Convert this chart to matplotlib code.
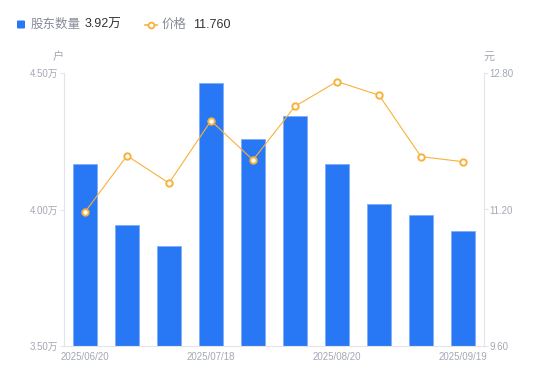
import matplotlib
matplotlib.use("Agg")
import matplotlib.pyplot as plt
import numpy as np

plt.rcParams['font.family'] = ['Liberation Sans', 'Noto Sans CJK SC', 'DejaVu Sans']

dates = ["2025/06/20", "", "", "2025/07/18", "", "", "2025/08/20", "", "", "2025/09/19"]
holders = [4.166, 3.942, 3.865, 4.463, 4.257, 4.344, 4.168, 4.019, 3.980, 3.920]
prices = [11.17, 11.83, 11.51, 12.24, 11.78, 12.41, 12.70, 12.54, 11.82, 11.76]
left_ticks = [3.50, 4.00, 4.50]
right_ticks = [9.60, 11.20, 12.80]

BLUE = "#2878F5"
ORANGE = "#F7B23B"
GRAY = "#A4A8B5"
AXIS = "#E3E4E8"

fig = plt.figure(figsize=(5.5, 3.81), dpi=100)
ax = fig.add_axes([64/550, 1-346/381, 420/550, 273/381])
ax2 = ax.twinx()

x = np.arange(len(holders))
ax.bar(x, holders, width=0.59, color=BLUE, edgecolor="#7FAEF8", linewidth=0.6, zorder=2)
ax.set_xlim(-0.5, len(holders) - 0.5)
ax.set_ylim(3.5, 4.5)
ax.set_yticks(left_ticks)
ax.set_yticklabels([f"{v:.2f}万" for v in left_ticks])

ax2.plot(x, prices, color=ORANGE, linewidth=0.8, marker='o', markersize=4.6,
         markerfacecolor='white', markeredgecolor=ORANGE, markeredgewidth=1.4, zorder=3)
ax2.set_ylim(9.6, 12.8)
ax2.set_yticks(right_ticks)
ax2.set_yticklabels([f"{v:.2f}" for v in right_ticks])

ax.set_xticks(x)
ax.set_xticklabels(dates)

for a in (ax, ax2):
    for s in a.spines.values():
        s.set_visible(False)
    a.tick_params(axis='y', colors=AXIS, labelcolor=GRAY, labelsize=7, length=3, width=0.8, pad=1)
ax.spines['left'].set_visible(True)
ax.spines['left'].set_color(AXIS)
ax.spines['bottom'].set_visible(True)
ax.spines['bottom'].set_color(AXIS)
ax2.spines['right'].set_visible(True)
ax2.spines['right'].set_color(AXIS)
ax.tick_params(axis='x', length=0, labelcolor=GRAY, labelsize=7, pad=4)

fig.text(58/550, 1-57/381, "户", color=GRAY, fontsize=8, ha='center', va='center')
fig.text(489/550, 1-57/381, "元", color=GRAY, fontsize=8, ha='center', va='center')

# legend
fig.patches.append(matplotlib.patches.FancyBboxPatch((17/550, 1-28.5/381), 8/550, 8/381,
                   boxstyle="round,pad=0,rounding_size=0.002", transform=fig.transFigure,
                   facecolor=BLUE, edgecolor='none'))
fig.text(31/550, 1-24.5/381, "股东数量", color="#888C99", fontsize=9, va='center')
fig.text(85/550, 1-24.5/381, "3.92万", color="#333333", fontsize=9, va='center')
fig.lines.append(matplotlib.lines.Line2D([145/550, 157/550], [1-24.5/381, 1-24.5/381],
                 transform=fig.transFigure, color=ORANGE, linewidth=1.2, marker='o',
                 markevery=[0], markersize=0))
fig.lines.append(matplotlib.lines.Line2D([151/550], [1-24.5/381], transform=fig.transFigure,
                 color=ORANGE, marker='o', markersize=4.2, markerfacecolor='white',
                 markeredgewidth=1.3, linestyle='none'))
fig.text(162/550, 1-24.5/381, "价格", color="#888C99", fontsize=9, va='center')
fig.text(193/550, 1-24.5/381, "11.760", color="#333333", fontsize=9, va='center')

fig.savefig("out.png", dpi=100)
